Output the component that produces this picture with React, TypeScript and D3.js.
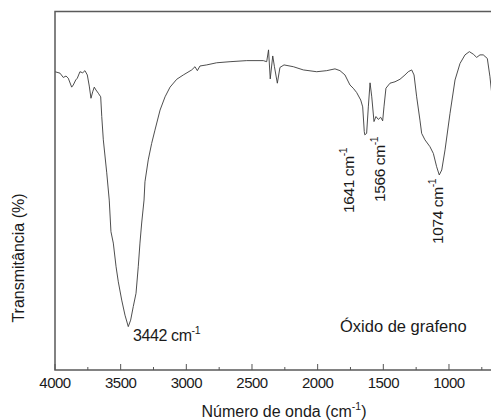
import React from "react";
import * as d3 from "d3";

const wavenumber = [
  4000, 3962, 3937, 3916, 3899, 3873, 3861, 3842, 3830, 3810, 3789, 3772, 3754, 3739, 3726, 3713, 3701, 3688, 3670, 3652,
  3644, 3632, 3606, 3587, 3574, 3556, 3535, 3518, 3492, 3467, 3442, 3424, 3404, 3383, 3366, 3353, 3340, 3322, 3315, 3290,
  3264, 3239, 3200, 3162, 3124, 3073, 3023, 2959, 2934, 2916, 2896, 2845, 2769, 2667, 2540, 2414, 2388, 2374, 2361, 2342,
  2329, 2307, 2287, 2256, 2185, 2109, 2007, 1931, 1868, 1830, 1792, 1754, 1729, 1703, 1672, 1657, 1645, 1641, 1627, 1614,
  1601, 1588, 1571, 1556, 1538, 1520, 1505, 1495, 1480, 1449, 1411, 1373, 1335, 1310, 1284, 1266, 1246, 1221, 1208, 1183,
  1145, 1119, 1094, 1074, 1055, 1030, 992, 954, 916, 878, 845, 815, 789, 764, 739, 708, 688, 673,
];
const transmittance = [
  83.2, 82.8, 81.6, 82.0, 81.4, 78.9, 79.5, 80.9, 81.4, 83.2, 82.9, 83.5, 82.3, 79.2, 75.8, 77.6, 78.9, 78.1, 77.2, 76.2,
  70.7, 64.2, 55.0, 47.4, 38.6, 35.4, 28.8, 24.6, 19.5, 15.3, 12.1, 13.9, 17.7, 21.4, 28.8, 35.4, 41.0, 47.4, 52.5, 58.6,
  63.2, 66.9, 72.5, 76.2, 78.9, 81.1, 82.3, 83.7, 84.6, 83.5, 84.8, 85.1, 85.7, 86.0, 86.3, 86.3, 86.0, 89.3, 81.2, 87.6,
  84.6, 80.0, 84.4, 85.1, 84.6, 83.7, 83.2, 83.5, 84.0, 83.5, 82.3, 79.5, 78.6, 77.4, 75.3, 73.4, 66.5, 65.6, 66.0, 73.4,
  80.1, 76.2, 69.3, 70.7, 69.9, 70.5, 69.5, 73.4, 78.6, 80.0, 80.4, 81.1, 82.3, 83.2, 83.7, 82.3, 76.2, 69.7, 66.0, 64.2,
  62.3, 60.4, 56.7, 54.4, 55.8, 61.4, 71.6, 80.9, 85.5, 87.9, 88.8, 88.1, 87.2, 87.9, 87.9, 86.9, 81.8, 76.7,
];
const majorTicks = [4000, 3500, 3000, 2500, 2000, 1500, 1000];
const minorTicks = [3750, 3250, 2750, 2250, 1750, 1250, 750];
const peakLabels = ["1641", "1566", "1074"];
const xTitle = "Número de onda (cm";
const yTitle = "Transmitância (%)";
const sampleName = "Óxido de grafeno";
const mainPeak = "3442";

const W = 491;
const H = 420;
const left = 55;
const right = 491;
const top = 11.5;
const bottom = 370;
const font = "'Liberation Sans', Arial, sans-serif";

export default function App() {
  const x = d3.scaleLinear().domain([4000, 680]).range([left, right]);
  const y = d3.scaleLinear().domain([0, 100]).range([bottom, top]);
  const pts: [number, number][] = wavenumber.map((w, i) => [w, transmittance[i]]);
  const line = d3
    .line<[number, number]>()
    .x((d) => x(d[0]))
    .y((d) => y(d[1]))
    .curve(d3.curveLinear);

  const rotLabels = [
    { t: peakLabels[0], bx: 354, by: 213 },
    { t: peakLabels[1], bx: 385, by: 202 },
    { t: peakLabels[2], bx: 443, by: 244 },
  ];

  return (
    <svg
      width={W}
      height={H}
      style={{ position: "absolute", left: 0, top: 0, background: "#fff" }}
      fontFamily={font}
    >
      <defs>
        <clipPath id="plotclip">
          <rect x={left} y={0} width={right - left} height={bottom} />
        </clipPath>
      </defs>
      <rect width={W} height={H} fill="#fff" />
      <path
        d={line(pts) || ""}
        fill="none"
        stroke="#3a3a3a"
        strokeWidth={0.9}
        clipPath="url(#plotclip)"
      />
      <path
        d={`M${right},${top}H${left}V${bottom}H${right}`}
        fill="none"
        stroke="#5a5a5a"
        strokeWidth={1.5}
      />
      {majorTicks.map((t) => (
        <g key={"M" + t}>
          <line x1={x(t)} x2={x(t)} y1={bottom} y2={bottom - 6} stroke="#555" strokeWidth={1} />
          <text
            x={x(t)}
            y={bottom + 18}
            textAnchor="middle"
            fontSize={15}
            letterSpacing={-0.5}
            fill="#1a1a1a"
          >
            {t}
          </text>
        </g>
      ))}
      {minorTicks.map((t) => (
        <line key={"m" + t} x1={x(t)} x2={x(t)} y1={bottom} y2={bottom - 3} stroke="#555" strokeWidth={1} />
      ))}
      <text x={284} y={417} textAnchor="middle" fontSize={16} fill="#1a1a1a">
        {xTitle}
        <tspan fontSize={10.5} dy={-7}>-1</tspan>
        <tspan dy={7}>)</tspan>
      </text>
      <text
        transform={`translate(24,258) rotate(-90)`}
        textAnchor="middle"
        fontSize={16}
        fill="#1a1a1a"
      >
        {yTitle}
      </text>
      <text x={133} y={341} fontSize={16} fill="#1a1a1a" letterSpacing={-0.4}>
        {mainPeak} cm
        <tspan fontSize={10.5} dy={-7}>-1</tspan>
      </text>
      {rotLabels.map((l) => (
        <text
          key={l.t}
          transform={`translate(${l.bx},${l.by}) rotate(-90)`}
          fontSize={15.5}
          fill="#1a1a1a"
          letterSpacing={-0.4}
        >
          {l.t} cm
          <tspan fontSize={10.5} dy={-7}>-1</tspan>
        </text>
      ))}
      <text x={340} y={332} fontSize={16.5} fill="#1a1a1a">
        {sampleName}
      </text>
    </svg>
  );
}
